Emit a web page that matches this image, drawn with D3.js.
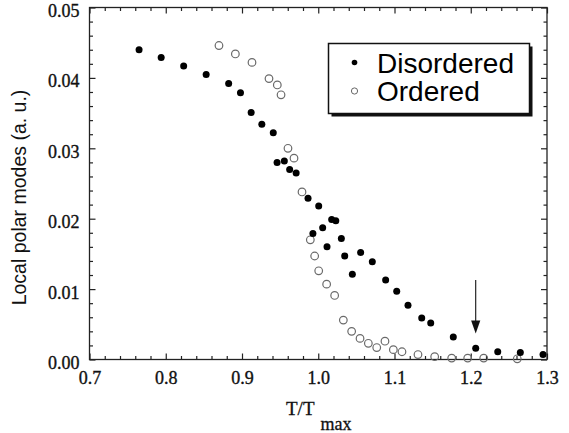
<!DOCTYPE html>
<html>
<head>
<meta charset="utf-8">
<script src="https://cdn.jsdelivr.net/npm/d3@7"></script>
<style>
  body { margin: 0; background: #fff; }
  svg { display: block; }
  .tick text { font-family: "Liberation Serif", "Times New Roman", serif; font-size: 18px; fill: #111; stroke: #111; stroke-width: 0.35px; }
</style>
</head>
<body>
<div id="container"></div>
<script>
// T/Tmax values and mode amplitudes
var disorderedT = [0.765, 0.794, 0.8235, 0.853, 0.8825, 0.898, 0.912, 0.926, 0.941, 0.946, 0.9555, 0.9625, 0.971,
  0.9866, 0.993, 1.0006, 1.0058, 1.0115, 1.0176, 1.023, 1.0303, 1.0347, 1.0447, 1.0556, 1.0709, 1.0884, 1.1029,
  1.1177, 1.1357, 1.1475, 1.1771, 1.2065, 1.2354, 1.265, 1.2948];
var disorderedP = [0.0440, 0.0429, 0.0417, 0.0405, 0.0392, 0.0379, 0.0351, 0.0334, 0.0322, 0.0280, 0.0282, 0.0270, 0.0265,
  0.0229, 0.0179, 0.0218, 0.0187, 0.0160, 0.0199, 0.0197, 0.0172, 0.0147, 0.0121, 0.0152, 0.0139, 0.0113, 0.0097,
  0.0077, 0.0059, 0.0052, 0.0032, 0.0016, 0.0011, 0.0010, 0.0007];

var orderedT = [0.8698, 0.8913, 0.9131, 0.9354, 0.9463, 0.9512, 0.9603, 0.9682, 0.9787, 0.9896, 0.9953, 1.0006, 1.011,
  1.0215, 1.0329, 1.0438, 1.0548, 1.0657, 1.0767, 1.0875, 1.0985, 1.1098, 1.1308, 1.1527, 1.175, 1.196, 1.217, 1.261];
var orderedP = [0.0446, 0.0434, 0.0422, 0.0399, 0.0390, 0.0376, 0.0300, 0.0286, 0.0238, 0.0170, 0.0147, 0.0126, 0.0107,
  0.0091, 0.0056, 0.0040, 0.0030, 0.0023, 0.0017, 0.0026, 0.0014, 0.0011, 0.0007, 0.0004, 0.0002, 0.0002, 0.0002, 0.0001];

var xTicks = [0.7, 0.8, 0.9, 1.0, 1.1, 1.2, 1.3];
var yTicks = [0.00, 0.01, 0.02, 0.03, 0.04, 0.05];
var seriesNames = ["Disordered", "Ordered"];

// arrow marking the transition
var arrowT = 1.2065, arrowFrom = 0.0113, arrowTo = 0.0037;

var margin = {top: 7.5, left: 89.5},
	width = 457.5,
	height = 352;

var svg = d3.select("#container").append("svg")
	.attr("width", 569)
	.attr("height", 433)
	.append("g")
		.attr("transform", "translate(" + margin.left + "," + margin.top + ")");

var x = d3.scaleLinear().domain([0.7, 1.3]).range([0, width]);
var y = d3.scaleLinear().domain([0, 0.05]).range([height, 0]);

var xMinor = d3.range(0.72, 1.3, 0.02).filter(function(v) { return Math.abs(v * 10 - Math.round(v * 10)) > 0.01; });
var yMinor = d3.range(0.002, 0.05, 0.002).filter(function(v) { return Math.abs(v * 100 - Math.round(v * 100)) > 0.01; });

function styleAxis(g) {
	g.select(".domain").remove();
	g.selectAll(".tick line").attr("stroke", "#222").attr("stroke-width", 1.2);
}

// major ticks with labels (inward)
svg.append("g")
	.attr("transform", "translate(0," + height + ")")
	.call(d3.axisBottom(x).tickValues(xTicks).tickSize(-6).tickPadding(12).tickFormat(d3.format(".1f")))
	.call(styleAxis);
svg.append("g")
	.call(d3.axisLeft(y).tickValues(yTicks).tickSize(-6).tickPadding(10).tickFormat(d3.format(".2f")))
	.call(styleAxis)
	.selectAll(".tick text").attr("dy", "0.5em");
svg.append("g")
	.call(d3.axisTop(x).tickValues(xTicks).tickSize(-6).tickFormat(""))
	.call(styleAxis);
svg.append("g")
	.attr("transform", "translate(" + width + ",0)")
	.call(d3.axisRight(y).tickValues(yTicks).tickSize(-6).tickFormat(""))
	.call(styleAxis);

// minor ticks
svg.append("g").attr("transform", "translate(0," + height + ")")
	.call(d3.axisBottom(x).tickValues(xMinor).tickSize(-3.5).tickFormat("")).call(styleAxis);
svg.append("g")
	.call(d3.axisTop(x).tickValues(xMinor).tickSize(-3.5).tickFormat("")).call(styleAxis);
svg.append("g")
	.call(d3.axisLeft(y).tickValues(yMinor).tickSize(-3.5).tickFormat("")).call(styleAxis);
svg.append("g").attr("transform", "translate(" + width + ",0)")
	.call(d3.axisRight(y).tickValues(yMinor).tickSize(-3.5).tickFormat("")).call(styleAxis);

// frame
svg.append("rect")
	.attr("width", width)
	.attr("height", height)
	.attr("fill", "none")
	.attr("stroke", "#222")
	.attr("stroke-width", 1.3);

// axis labels
var xl = svg.append("text")
	.attr("x", 196.5)
	.attr("y", 407.5)
	.style("font-family", "'Liberation Serif', 'Times New Roman', serif")
	.style("font-size", "19px")
	.attr("fill", "#111")
	.attr("stroke", "#111")
	.attr("stroke-width", 0.3)
	.text("T/T");
xl.append("tspan")
	.attr("dy", 15)
	.attr("dx", 6)
	.style("font-size", "18px")
	.text("max");

svg.append("text")
	.attr("transform", "rotate(-90)")
	.attr("x", -190)
	.attr("y", -64)
	.style("text-anchor", "middle")
	.style("font-family", "'Liberation Sans', Arial, sans-serif")
	.style("font-size", "19.5px")
	.attr("fill", "#111")
	.text("Local polar modes (a. u.)");

// points
var ordered = orderedT.map(function(t, i) { return {t: t, p: orderedP[i]}; });
var disordered = disorderedT.map(function(t, i) { return {t: t, p: disorderedP[i]}; });

svg.selectAll(".open")
	.data(ordered).enter()
	.append("circle")
		.attr("class", "open")
		.attr("r", 3.8)
		.attr("cx", function(d) { return x(d.t); })
		.attr("cy", function(d) { return y(d.p); })
		.attr("fill", "none")
		.attr("stroke", "#6a6a6a")
		.attr("stroke-width", 1.2);

svg.selectAll(".dot")
	.data(disordered).enter()
	.append("circle")
		.attr("class", "dot")
		.attr("r", 3.5)
		.attr("cx", function(d) { return x(d.t); })
		.attr("cy", function(d) { return y(d.p); })
		.attr("fill", "#000");

// arrow
svg.append("line")
	.attr("x1", x(arrowT)).attr("x2", x(arrowT))
	.attr("y1", y(arrowFrom)).attr("y2", y(arrowTo) - 10)
	.attr("stroke", "#111")
	.attr("stroke-width", 1.1);
svg.append("path")
	.attr("d", "M" + (x(arrowT) - 4.6) + "," + (y(arrowTo) - 13) +
		"L" + (x(arrowT) + 4.6) + "," + (y(arrowTo) - 13) +
		"L" + x(arrowT) + "," + y(arrowTo) + "Z")
	.attr("fill", "#111");

// legend with drop shadow
var legend = svg.append("g").attr("transform", "translate(" + (328.5 - margin.left) + "," + (43.5 - margin.top) + ")");
legend.append("rect")
	.attr("x", 3).attr("y", 3)
	.attr("width", 201).attr("height", 70)
	.attr("fill", "#111");
legend.append("rect")
	.attr("width", 201).attr("height", 70)
	.attr("fill", "#fff")
	.attr("stroke", "#111")
	.attr("stroke-width", 1.5);

var item = legend.selectAll(".legend")
	.data(seriesNames).enter()
	.append("g")
		.attr("class", "legend")
		.attr("transform", function(d, i) { return "translate(0," + (i * 28.5) + ")"; });

item.append("circle")
	.attr("cx", 26)
	.attr("cy", 19)
	.attr("r", function(d, i) { return i === 0 ? 2.8 : 3.1; })
	.attr("fill", function(d, i) { return i === 0 ? "#000" : "none"; })
	.attr("stroke", function(d, i) { return i === 0 ? "none" : "#666"; })
	.attr("stroke-width", 1);

item.append("text")
	.attr("x", 48.5)
	.attr("y", 29)
	.style("font-family", "'Liberation Sans', Arial, sans-serif")
	.style("font-size", "28px")
	.attr("fill", "#000")
	.text(function(d) { return d; });
</script>
</body>
</html>
